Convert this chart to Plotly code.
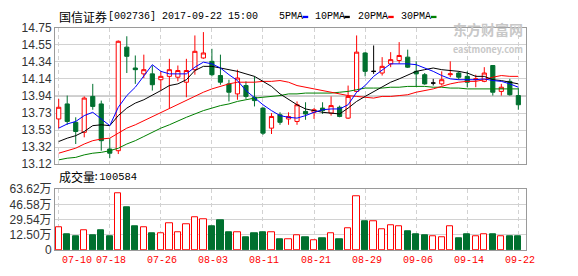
import plotly.graph_objects as go

# ---------------- data ----------------
dates = ['07-10', '07-11', '07-12', '07-13', '07-14', '07-17', '07-18', '07-19', '07-20', '07-21',
         '07-24', '07-25', '07-26', '07-27', '07-28', '07-31', '08-01', '08-02', '08-03', '08-04',
         '08-07', '08-08', '08-09', '08-10', '08-11', '08-14', '08-15', '08-16', '08-17', '08-18',
         '08-21', '08-22', '08-23', '08-24', '08-25', '08-28', '08-29', '08-30', '08-31', '09-01',
         '09-04', '09-05', '09-06', '09-07', '09-08', '09-11', '09-12', '09-13', '09-14', '09-15',
         '09-18', '09-19', '09-20', '09-21', '09-22']

opens = [13.66, 13.84, 13.62, 13.50, 13.93, 13.84, 13.30, 13.28, 14.52, 14.27,
         14.20, 14.20, 14.13, 14.17, 14.16, 14.10, 14.25, 14.39, 14.35, 14.18,
         14.08, 13.96, 14.06, 13.92, 13.79, 13.55, 13.71, 13.66, 13.63, 13.75,
         13.74, 13.79, 13.73, 13.80, 13.67, 13.99, 14.45, 14.23, 14.21, 14.32,
         14.36, 14.40, 14.23, 14.19, 14.09, 14.08, 14.19, 14.21, 14.17, 14.13,
         14.11, 14.30, 13.99, 14.11, 13.94]
highs = [13.90, 13.94, 13.68, 13.93, 14.08, 13.88, 13.43, 14.60, 14.65, 14.42,
         14.43, 14.30, 14.23, 14.38, 14.30, 14.38, 14.66, 14.70, 14.50, 14.43,
         14.13, 14.25, 14.11, 14.17, 13.80, 13.73, 13.74, 13.74, 13.87, 13.86,
         13.79, 13.86, 13.93, 13.82, 14.06, 14.66, 14.46, 14.54, 14.40, 14.46,
         14.58, 14.49, 14.35, 14.21, 14.14, 14.23, 14.35, 14.23, 14.23, 14.19,
         14.28, 14.30, 14.08, 14.14, 14.03]
lows = [13.55, 13.59, 13.36, 13.44, 13.77, 13.28, 13.19, 13.24, 14.21, 14.08,
        14.15, 14.00, 14.00, 13.79, 14.11, 13.92, 14.19, 14.38, 14.17, 14.07,
        13.87, 13.89, 13.90, 13.81, 13.47, 13.48, 13.59, 13.59, 13.59, 13.65,
        13.66, 13.72, 13.70, 13.68, 13.66, 13.98, 14.17, 14.20, 14.18, 14.28,
        14.32, 14.27, 14.05, 14.07, 14.06, 14.06, 14.16, 14.13, 14.04, 14.04,
        14.10, 13.94, 13.94, 13.94, 13.77]
closes = [13.80, 13.63, 13.51, 13.91, 13.81, 13.40, 13.25, 14.59, 14.41, 14.25,
          14.25, 14.07, 14.17, 14.25, 14.24, 14.24, 14.47, 14.45, 14.19, 14.10,
          13.98, 14.15, 13.93, 13.88, 13.49, 13.69, 13.62, 13.69, 13.83, 13.72,
          13.77, 13.76, 13.82, 13.69, 13.93, 14.46, 14.23, 14.23, 14.29, 14.37,
          14.42, 14.28, 14.20, 14.08, 14.09, 14.13, 14.20, 14.16, 14.10, 14.14,
          14.21, 13.98, 14.04, 13.95, 13.83]

ma5 = [13.55, 13.60, 13.63, 13.70, 13.74, 13.66, 13.58, 13.80, 13.94, 14.04,
       14.17, 14.31, 14.23, 14.20, 14.20, 14.20, 14.28, 14.34, 14.32, 14.27,
       14.19, 14.12, 14.00, 13.91, 13.83, 13.76, 13.70, 13.68, 13.67, 13.70,
       13.74, 13.77, 13.78, 13.78, 13.83, 13.98, 14.06, 14.17, 14.25, 14.32,
       14.32, 14.32, 14.31, 14.27, 14.23, 14.18, 14.14, 14.13, 14.13, 14.13,
       14.14, 14.12, 14.11, 14.08, 14.04]
ma10 = [13.39, 13.43, 13.46, 13.51, 13.58, 13.59, 13.58, 13.70, 13.79, 13.85,
        13.89, 13.94, 14.00, 14.06, 14.08, 14.13, 14.24, 14.29, 14.29, 14.27,
        14.25, 14.23, 14.20, 14.17, 14.11, 14.05, 13.96, 13.89, 13.83, 13.78,
        13.76, 13.74, 13.73, 13.72, 13.79, 13.87, 13.93, 13.99, 14.05, 14.10,
        14.14, 14.19, 14.23, 14.25, 14.27, 14.25, 14.24, 14.23, 14.21, 14.17,
        14.17, 14.13, 14.12, 14.10, 14.08]
ma20 = [13.25, 13.28, 13.31, 13.36, 13.40, 13.42, 13.43, 13.49, 13.55, 13.59,
        13.64, 13.69, 13.74, 13.78, 13.83, 13.88, 13.93, 13.98, 14.02, 14.05,
        14.08, 14.10, 14.10, 14.10, 14.11, 14.11, 14.12, 14.10, 14.06, 14.04,
        14.02, 14.00, 13.98, 13.96, 13.94, 13.93, 13.92, 13.91, 13.93, 13.93,
        13.94, 13.95, 13.98, 14.00, 14.02, 14.05, 14.08, 14.10, 14.11, 14.11,
        14.13, 14.16, 14.18, 14.17, 14.17]
ma30 = [13.17, 13.19, 13.20, 13.23, 13.25, 13.26, 13.28, 13.31, 13.36, 13.40,
        13.45, 13.50, 13.55, 13.59, 13.64, 13.68, 13.72, 13.76, 13.79, 13.82,
        13.84, 13.87, 13.89, 13.91, 13.92, 13.93, 13.94, 13.96, 13.96, 13.97,
        13.97, 13.97, 13.97, 13.98, 13.99, 14.01, 14.03, 14.03, 14.03, 14.04,
        14.04, 14.05, 14.05, 14.05, 14.04, 14.04, 14.03, 14.03, 14.02, 14.02,
        14.02, 14.02, 14.02, 14.02, 14.02]

volumes = [23.5, 16.6, 14.9, 20.5, 15.9, 20.9, 14.3, 59.7, 44.7, 24.9,
           23.5, 17.9, 17.6, 28.5, 18.6, 27.2, 34.5, 31.8, 24.9, 30.8,
           18.9, 18.6, 13.3, 17.9, 18.9, 18.6, 10.9, 11.6, 15.9, 13.3,
           10.6, 11.9, 17.6, 10.9, 22.9, 56.3, 29.8, 30.5, 21.5, 25.5,
           24.5, 19.9, 16.9, 15.9, 13.9, 12.9, 24.5, 11.9, 16.9, 14.9,
           16.9, 16.9, 14.9, 14.9, 14.3]

price_ticks = ['14.75', '14.55', '14.34', '14.14', '13.94', '13.73', '13.53', '13.32', '13.12']
vol_ticks = ['63.62万', '46.58万', '29.54万', '12.50万', '0']
x_ticks = ['07-10', '07-18', '07-26', '08-03', '08-11', '08-21', '08-29', '09-06', '09-14', '09-22']

stock_name = '国信证券'
stock_info = '[002736] 2017-09-22 15:00'
vol_title = '成交量'
vol_last = ':100584'
ma_names = ['5PMA', '10PMA', '20PMA', '30PMA']
watermark_cn = '东方财富网'
watermark_en = 'eastmoney.com'

# ---------------- styles ----------------
W, H = 578, 276
RED = '#FF0000'
GREEN = '#00702F'
MA_COLORS = ['#0000FF', '#000000', '#FF0000', '#008000']
GRID = '#D2D2D2'
BORDER = '#9A9A9A'


def px(x):
    return x / W


def py(y):
    return 1 - y / H


n = len(dates)
price_min = float(price_ticks[-1])
price_max = float(price_ticks[0])
price_step = (price_max - price_min) / (len(price_ticks) - 1)
price_vals = [price_max - k * price_step for k in range(len(price_ticks))]
vol_top = float(vol_ticks[0].replace('万', ''))
vol_vals = [vol_top - k * vol_top / (len(vol_ticks) - 1) for k in range(len(vol_ticks))]

fig = go.Figure()


def candle_trace(idx, line_color, fill):
    return go.Candlestick(
        x=[dates[i] for i in idx],
        open=[opens[i] for i in idx],
        high=[highs[i] for i in idx],
        low=[lows[i] for i in idx],
        close=[closes[i] for i in idx],
        increasing=dict(line=dict(color=line_color, width=1), fillcolor=fill),
        decreasing=dict(line=dict(color=line_color, width=1), fillcolor=fill),
        whiskerwidth=0,
        xaxis='x', yaxis='y', hoverinfo='skip', showlegend=False,
    )


up_idx = [i for i in range(n) if closes[i] > opens[i]]
down_idx = [i for i in range(n) if closes[i] < opens[i]]
doji_idx = [i for i in range(n) if closes[i] == opens[i]]

fig.add_trace(candle_trace(up_idx, RED, '#FFFFFF'))
fig.add_trace(candle_trace(down_idx, GREEN, GREEN))
if doji_idx:
    fig.add_trace(candle_trace(doji_idx, '#000000', '#000000'))

for vals, col in zip([ma30, ma20, ma10, ma5], MA_COLORS[::-1]):
    fig.add_trace(go.Scatter(x=dates, y=vals, mode='lines', line=dict(color=col, width=1),
                             xaxis='x', yaxis='y', hoverinfo='skip', showlegend=False))

vol_up = [closes[i] >= opens[i] for i in range(n)]
fig.add_trace(go.Bar(
    x=dates, y=volumes, width=0.74,
    marker=dict(color=['#FFFFFF' if u else GREEN for u in vol_up],
                line=dict(color=[RED if u else GREEN for u in vol_up], width=1)),
    xaxis='x2', yaxis='y2', hoverinfo='skip', showlegend=False,
))

x_dom = [px(55), px(526)]
x_range = [-0.435, n - 1 + 0.9]
xcommon = dict(domain=x_dom, type='category', categoryorder='array', categoryarray=dates,
               range=x_range, tickmode='array', tickvals=x_ticks, showticklabels=False,
               showgrid=True, gridcolor=GRID, griddash='4px,3px', gridwidth=1,
               showline=True, mirror=True, linecolor=BORDER, linewidth=1,
               zeroline=False, ticks='', fixedrange=True)
tickfont = dict(family='Liberation Sans, Arial, Noto Sans CJK SC', size=12, color='#333333')

fig.update_layout(
    width=W, height=H, margin=dict(l=0, r=0, t=0, b=0),
    paper_bgcolor='white', plot_bgcolor='white', showlegend=False,
    xaxis=dict(**xcommon, anchor='y', rangeslider=dict(visible=False)),
    xaxis2=dict(**xcommon, anchor='y2'),
    yaxis=dict(domain=[py(165.5), py(22)], range=[price_min - 0.0005, price_max + 0.0005],
               tickmode='array', tickvals=price_vals, ticktext=price_ticks,
               showgrid=True, gridcolor=GRID, gridwidth=1, showline=True, mirror=True,
               linecolor=BORDER, linewidth=1, zeroline=False, ticks='', tickfont=tickfont,
               fixedrange=True, anchor='x'),
    yaxis2=dict(domain=[py(256), py(192)], range=[-0.01, vol_top + 0.01],
                tickmode='array', tickvals=vol_vals, ticktext=vol_ticks,
                showgrid=True, gridcolor=GRID, gridwidth=1, showline=True, mirror=True,
                linecolor=BORDER, linewidth=1, zeroline=False, ticks='', tickfont=tickfont,
                fixedrange=True, anchor='x2'),
    bargap=0,
)

# darker middle reference line
fig.add_shape(type='line', xref='paper', yref='y', x0=x_dom[0], x1=x_dom[1],
              y0=price_vals[len(price_vals) // 2], y1=price_vals[len(price_vals) // 2],
              line=dict(color=BORDER, width=1), layer='below')

cjk = 'Noto Sans CJK SC'
mono = 'Liberation Mono, DejaVu Sans Mono, monospace'
ann = []
ann.append(dict(text=stock_name, x=px(57), y=py(9.5), font=dict(family=cjk, size=12, color='#000')))
ann.append(dict(text=stock_info, x=px(105.5), y=py(9.5), font=dict(family=mono, size=10, color='#000')))
legend_x = [277, 313, 356, 399]
dash_x = [302.7, 344.3, 388.2, 431]
for name, lx, dx, col in zip(ma_names, legend_x, dash_x, MA_COLORS):
    ann.append(dict(text=name, x=px(lx), y=py(9.5), font=dict(family=mono, size=10, color='#000')))
    fig.add_shape(type='rect', xref='paper', yref='paper', x0=px(dx), x1=px(dx + 5.5),
                  y0=py(11.7), y1=py(9.3), fillcolor=col, line=dict(width=0))
ann.append(dict(text=vol_title, x=px(57), y=py(179), font=dict(family=cjk, size=12, color='#000')))
ann.append(dict(text=vol_last, x=px(91), y=py(179), font=dict(family=mono, size=10.5, color='#000')))
# watermark (one text block, two lines)
ann.append(dict(text='<b>' + watermark_cn + '</b><br><span style="font-size:9px"><b>'
                + watermark_en + '</b></span>',
                x=px(451), y=py(11), yanchor='top', align='left',
                font=dict(family=cjk, size=14, color='#C8C8C8')))
for a in ann:
    a.update(xref='paper', yref='paper', xanchor='left', showarrow=False)
    a.setdefault('yanchor', 'middle')
# x tick labels in red
for k, lab in enumerate(x_ticks):
    ann.append(dict(text=lab, x=lab, xref='x2', y=py(267), yref='paper',
                    xanchor='left' if k == 0 else 'center', xshift=1 if k == 0 else 1.5,
                    yanchor='middle', showarrow=False,
                    font=dict(family=mono, size=10, color=RED)))
fig.update_layout(annotations=ann)

fig.write_html('out.html', config=dict(displayModeBar=False))
